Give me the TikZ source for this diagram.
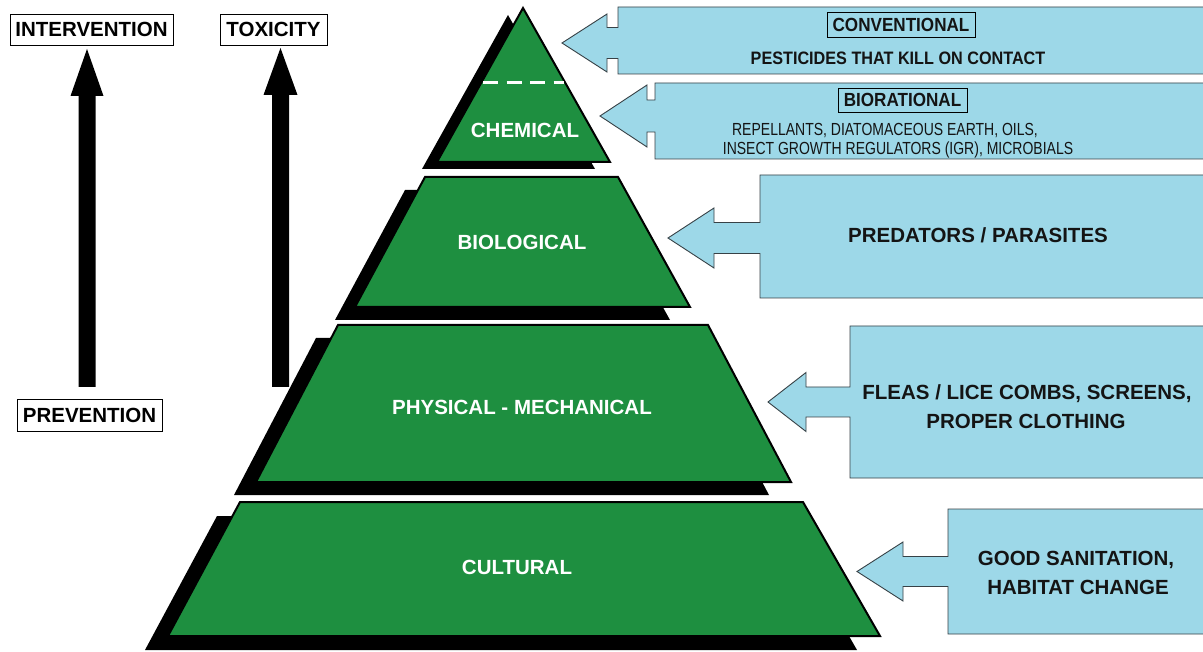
\documentclass[tikz,border=0pt]{standalone}
\usepackage{fontspec}
\setmainfont{Liberation Sans}
\newfontfamily\condfont{Liberation Sans}[FakeStretch=0.9]
\newfontfamily\narrowfont{Liberation Sans}[FakeStretch=0.8]
\definecolor{pgreen}{RGB}{30,143,64}
\definecolor{cblue}{RGB}{157,216,232}
\definecolor{cedge}{RGB}{55,65,70}
\definecolor{ctext}{RGB}{20,20,20}
% tip x, back x, box left, centre y, head half, shaft half, box top, box bottom
\newcommand\calloutshape[8]{%
  \filldraw[callout] (#1,#4) -- (#2,#4-#5) -- (#2,#4-#6) -- (#3,#4-#6) -- (#3,#7)
    -- (1212,#7) -- (1212,#8) -- (#3,#8) -- (#3,#4+#6) -- (#2,#4+#6) -- (#2,#4+#5) -- cycle;}
\tikzset{
  callout/.style={fill=cblue, draw=cedge, line width=0.9pt, line join=miter},
  tier/.style={fill=pgreen, draw=black, line width=2pt, line join=miter},
  shade/.style={fill=black},
  tierlabel/.style={font=\bfseries\fontsize{20.5}{24}\selectfont, text=white, anchor=base, inner sep=0pt},
  ctxt/.style={font=\bfseries\fontsize{20.5}{24}\selectfont, text=ctext, anchor=base, inner sep=0pt},
  tag/.style={draw=black, line width=0.8pt, fill=white, font=\bfseries\fontsize{20.5}{24}\selectfont,
    text height=14.7pt, text depth=0pt, inner sep=0pt},
  smalltag/.style={draw=black, line width=0.8pt, font=\condfont\bfseries\fontsize{19}{22}\selectfont,
    text=ctext, text height=13.6pt, text depth=0pt, inner sep=0pt},
  ctxtsmall/.style={font=\condfont\bfseries\fontsize{18}{22}\selectfont, text=ctext, anchor=base, inner sep=0pt},
  biotxt/.style={font=\narrowfont\fontsize{17.5}{20}\selectfont, text=ctext, anchor=base, inner sep=0pt},
  blockarrow/.style={fill=black}
}
\begin{document}
\begin{tikzpicture}[x=1pt,y=-1pt]
\useasboundingbox (0,0) rectangle (1203,652);
\fill[white] (0,0) rectangle (1203,652);

% ---- left indicators ----
\node[tag, minimum width=163pt, minimum height=31pt] (intv) at (91.5,29.5) {INTERVENTION};
\node[tag, minimum width=107pt, minimum height=31pt] (tox) at (273.5,29.5) {TOXICITY};
\node[tag, minimum width=145pt, minimum height=32pt] (prev) at (89.5,415) {PREVENTION};
\fill[blockarrow] (78.5,387) -- (78.5,96) -- (70.5,96) -- (87,49) -- (103.5,96) -- (95.5,96) -- (95.5,387) -- cycle;
\fill[blockarrow] (272,387) -- (272,95) -- (263.5,95) -- (280.5,48) -- (297.5,95) -- (289,95) -- (289,387) -- cycle;

% ---- pyramid ----
\fill[shade, shift={(-15,7)}] (523,8) -- (610,162) -- (437,162) -- cycle;
\filldraw[tier] (523,8) -- (610,162) -- (437,162) -- cycle;
\draw[white, line width=3pt, dash pattern=on 15pt off 8.5pt] (483,83) -- (564,83);
\node[tierlabel] (chem) at (525,137.3) {CHEMICAL};

\fill[shade, shift={(-20,13)}] (425,177) -- (618,177) -- (690,307) -- (355,307) -- cycle;
\filldraw[tier] (425,177) -- (618,177) -- (690,307) -- (355,307) -- cycle;
\node[tierlabel] (bio) at (522,249.3) {BIOLOGICAL};

\fill[shade, shift={(-22,13)}] (338,325) -- (708,325) -- (791,482) -- (256,482) -- cycle;
\filldraw[tier] (338,325) -- (708,325) -- (791,482) -- (256,482) -- cycle;
\node[tierlabel] (phys) at (522,414.3) {PHYSICAL - MECHANICAL};

\fill[shade, shift={(-23,14)}] (240,502) -- (803,502) -- (880,636) -- (168,636) -- cycle;
\filldraw[tier] (240,502) -- (803,502) -- (880,636) -- (168,636) -- cycle;
\node[tierlabel] (cult) at (517,574.3) {CULTURAL};

% ---- callouts ----
\calloutshape{562}{607}{618}{43}{29}{15.5}{7}{74}
\node[smalltag, minimum width=148pt, minimum height=25pt] (conv) at (901,24.5) {CONVENTIONAL};
\node[ctxtsmall] (pest) at (898,64.4) {PESTICIDES THAT KILL ON CONTACT};

\calloutshape{600}{647}{655}{116}{31}{16}{83}{159}
\node[smalltag, minimum width=129pt, minimum height=24pt] (biorat) at (902.5,100) {BIORATIONAL};
\node[biotxt] (bio1) at (885,135.3) {REPELLANTS, DIATOMACEOUS EARTH, OILS,};
\node[biotxt] (bio2) at (898,154.3) {INSECT GROWTH REGULATORS (IGR), MICROBIALS};

\calloutshape{668}{714}{760}{238}{30}{15.5}{175}{298}
\node[ctxt] (pred) at (978,242.3) {PREDATORS / PARASITES};

\calloutshape{768}{806}{850}{402}{29.5}{15}{326}{478}
\node[ctxt] (flea1) at (1027,399.3) {FLEAS / LICE COMBS, SCREENS,};
\node[ctxt] (flea2) at (1026,428.3) {PROPER CLOTHING};

\calloutshape{857}{903}{948}{571.5}{29.5}{15}{509}{634}
\node[ctxt] (san1) at (1076,565.3) {GOOD SANITATION,};
\node[ctxt] (san2) at (1078,594.3) {HABITAT CHANGE};
\end{tikzpicture}
\end{document}
